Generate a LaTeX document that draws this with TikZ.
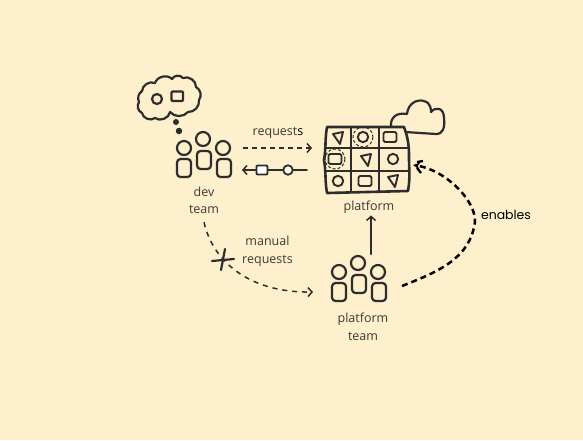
\documentclass[tikz,border=0pt]{standalone}
\usepackage{fontspec}
\setmainfont{Open Sans}
\newfontfamily\blackfont{Poppins}
\usetikzlibrary{arrows.meta, positioning, calc}
\definecolor{sketchbg}{RGB}{254,240,204}
\definecolor{sketchink}{RGB}{45,45,45}
\definecolor{sketchtext}{RGB}{60,58,55}
\tikzset{
	sketch/.style={draw=sketchink, line width=2.2pt, line join=round, line cap=round},
	thinsketch/.style={draw=sketchink, line width=1.5pt, line join=round},
	label/.style={font=\fontsize{12.5}{17.5}\selectfont, text=sketchtext, align=center, inner sep=0pt},
	anchorbox/.style={minimum width=#1, inner sep=0pt, outer sep=0pt},
	bodyshape/.style={sketch, rounded corners=3.5pt},
	barb/.style={-{Straight Barb[length=4pt, width=9pt, line width=1.5pt]}},
	returnnode/.style={draw=sketchink, line width=1.8pt, inner sep=0pt},
	pics/team/.style={code={
		\draw[sketch] (-19,9) circle (7);
		\draw[sketch] (0,0) circle (7);
		\draw[sketch] (20,9) circle (7);
		\draw[bodyshape] (-26,20) rectangle (-12,38);
		\draw[bodyshape] (-6,12) rectangle (8,30);
		\draw[bodyshape] (14,20) rectangle (28,38);
	}},
	pics/tri/.style={code={
		\draw[thinsketch, line width=1.9pt] (-5,-3) -- (5,-5) -- (2,7) -- cycle;
	}},
	pics/squ/.style={code={
		\draw[thinsketch, line width=1.9pt, rounded corners=1.5pt] (-6.5,-5) rectangle (6.5,5);
	}},
	pics/cir/.style={code={
		\draw[thinsketch, line width=1.9pt] (0,0) circle (5.2);
	}},
}
\begin{document}
\begin{tikzpicture}[x=1pt, y=-1pt]
	\fill[sketchbg] (0,0) rectangle (583,440);
	\useasboundingbox (0,0) rectangle (583,440);

	% people
	\pic at (203,139) {team};
	\pic at (358,263) {team};
	\node[anchorbox=78pt, minimum height=62pt] (devteam) at (204,159) {};
	\node[anchorbox=89pt, minimum height=50pt] (platformteam) at (357.5,279) {};
	\node[label] (devlabel) at (204,200.5) {dev\\team};
	\node[label] (platformteamlabel) at (363,327) {platform\\team};

	% thought cloud
	\draw[sketch] (142,91) to[bend left=55] (155,83) to[bend left=60] (172,79)
		to[bend left=60] (183,78) to[bend left=60] (196,87) to[bend left=50] (199,100)
		to[bend left=50] (188,112) to[bend left=50] (170,112) to[bend left=60] (155,118)
		to[bend left=60] (142,113) to[bend left=50] (139,102) to[bend left=40] cycle;
	\draw[sketch] (157,99) circle (5);
	\draw[sketch, rounded corners=1pt] (171.5,91.5) rectangle (183,101);
	\node[circle, fill=sketchink, minimum size=6pt, inner sep=0pt] (thoughtdot1) at (176,122) {};
	\node[circle, fill=sketchink, minimum size=6.5pt, inner sep=0pt] (thoughtdot2) at (179,131) {};

	% platform
	\draw[sketch] (391,127) .. controls (390,118) and (396,112) .. (407,114)
		.. controls (408,102) and (420,97) .. (428,103)
		.. controls (430,105) and (431,108) .. (431,112)
		.. controls (436,106) and (444,108) .. (444,118)
		.. controls (445,128) and (443,134) .. (436,134) -- (405,132);
	\draw[sketch, line width=2.6pt, fill=sketchbg] (327,127) -- (404,127) to[out=-70, in=90] (409,157)
		to[out=-90, in=80] (408,191) -- (327,193) to[out=100, in=-80] (324,160) to[out=80, in=-100] cycle;
	\draw[thinsketch] (351,127) -- (351,192);
	\draw[thinsketch] (379,127) -- (379,191);
	\draw[thinsketch] (325,148) -- (408,148);
	\draw[thinsketch] (325,171) -- (409,171);
	\foreach \x/\y in {338/137, 366/159, 393/180} \pic at (\x,\y) {tri};
	\foreach \x/\y in {363/137, 393/159, 338/181} \pic at (\x,\y) {cir};
	\foreach \x/\y in {390/137, 335/159, 365/181} \pic at (\x,\y) {squ};
	\draw[thinsketch, densely dashed, line width=1pt] (363,137) circle (10);
	\draw[thinsketch, densely dashed, line width=1pt] (335,159) circle (10);
	\node[anchorbox=104pt, minimum height=66pt] (platform) at (364,159) {};
	\node[label] (platformlabel) at (369,207) {platform};

	% arrows
	\node[label] (requestslabel) at (278,133) {request\textcolor{black}{s}};
	\draw[sketch, barb, line width=1.8pt, dash pattern=on 5pt off 4pt, line cap=butt]
		([yshift=11pt]devteam.east) -- ([yshift=11pt]platform.west);
	\draw[sketch, barb, line width=1.8pt] ([shift={(-5,11)}]platform.west) -- ([shift={(-1,11)}]devteam.east);
	\node[circle, returnnode, fill=sketchbg!40!white, minimum size=9.5pt] (returncircle) at (288,170) {};
	\node[returnnode, fill=white, minimum width=11pt, minimum height=9pt, rounded corners=1pt] (returnbox) at (262,170) {};
	\draw[sketch, barb] ([xshift=13.5pt]platformteam.north) -- ([xshift=2pt, yshift=-2pt]platformlabel.south);
	\draw[sketch, barb, line width=1.5pt, dash pattern=on 5pt off 5pt, line cap=butt]
		([yshift=-8pt]devlabel.south) .. controls (213,262) and (250,293) .. ([yshift=-13pt]platformteam.west);
	\coordinate (crossleft) at (212,261);
	\coordinate (crossright) at (234,259);
	\coordinate (crosstop) at (225,249);
	\coordinate (crossbottom) at (221,270);
	\draw[sketch] (crossleft) -- (crossright);
	\draw[sketch] (crosstop) -- (crossbottom);
	\node[label] (manuallabel) at (267.5,251) {manual\\requests};

	% enables
	\draw[draw=black, line width=2.5pt, dash pattern=on 6pt off 4pt, -{Stealth[length=7pt, width=7pt]}]
		([yshift=-7pt]platformteam.east) .. controls (440,271) and (470,258) .. (475,222)
		.. controls (476,200) and (445,170) .. ([yshift=-6pt, xshift=-3pt]platform.east);
	\draw[draw=black, line width=2.3pt] (417,162) -- (423,161) (417,168) -- (421,173);
	\node[font=\blackfont\fontsize{12.5}{14}\selectfont, text=black, inner sep=0pt] (enableslabel) at (506,215) {enables};
\end{tikzpicture}
\end{document}
